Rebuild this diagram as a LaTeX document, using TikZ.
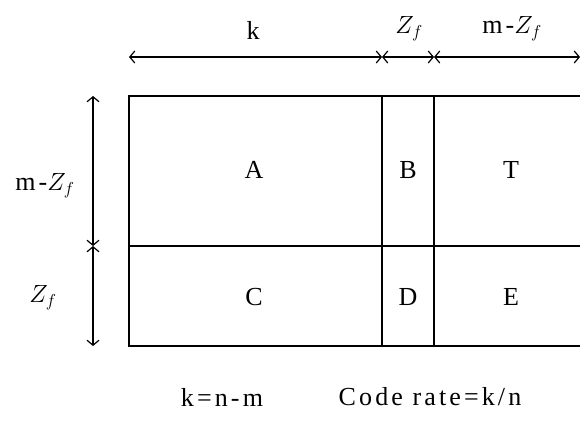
\documentclass[tikz,border=0pt]{standalone}
\usepackage{fontspec}
\setmainfont{Liberation Serif}[LetterSpace=12]
\usetikzlibrary{arrows.meta}
\begin{document}
\begin{tikzpicture}[x=1pt,y=-1pt,
  grid/.style={line width=1.2pt,black},
  dim/.style={line width=1.2pt,{Straight Barb[length=5pt,width=12pt]}-{Straight Barb[length=5pt,width=12pt]}},
  lbl/.style={font=\fontsize{26}{30}\selectfont,inner sep=0pt},
  cell/.style={font=\fontsize{26}{30}\selectfont,inner sep=0pt}]
\useasboundingbox (0,0) rectangle (580,420);
% matrix grid
\coordinate (tl) at (129,96);
\coordinate (tr) at (580,96);
\coordinate (ml) at (129,246);
\coordinate (mr) at (580,246);
\coordinate (bl) at (129,346);
\coordinate (br) at (580,346);
\coordinate (v1t) at (382,96);
\coordinate (v1b) at (382,346);
\coordinate (v2t) at (434,96);
\coordinate (v2b) at (434,346);
\draw[grid] (tr) -- (tl) -- (bl) -- (br);
\draw[grid] (ml) -- (mr);
\draw[grid] (v1t) -- (v1b);
\draw[grid] (v2t) -- (v2b);
% cells
\node[cell] (A) at (254,170) {A};
\node[cell] (B) at (408,170) {B};
\node[cell] (T) at (511,170) {T};
\node[cell] (C) at (254,297) {C};
\node[cell] (D) at (408,297) {D};
\node[cell] (E) at (511,297) {E};
% top dimension
\coordinate (h0) at (129,57);
\coordinate (h1) at (382,57);
\coordinate (h2) at (434,57);
\coordinate (h3) at (580,57);
\draw[dim] (h0) -- (h1);
\draw[dim] (h1) -- (h2);
\draw[dim] (h2) -- (h3);
\node[lbl] (lk) at (253,30) {k};
\node[lbl] (lz) at (409,29) {$Z_f$};
\node[lbl] (lmz) at (512,29) {m-$Z_f$};
% left dimension
\coordinate (v0) at (93,96);
\coordinate (vm) at (93,246);
\coordinate (vb) at (93,346);
\draw[dim] (v0) -- (vm);
\draw[dim] (vm) -- (vb);
\node[lbl] (lmz2) at (45,186) {m-$Z_f$};
\node[lbl] (lz2) at (43,298) {$Z_f$};
% bottom text
\node[lbl] (eq1) at (222,397) {k=n-m};
\node[lbl] (eq2) at (430,397) {Code rate=k/n};
\end{tikzpicture}
\end{document}
